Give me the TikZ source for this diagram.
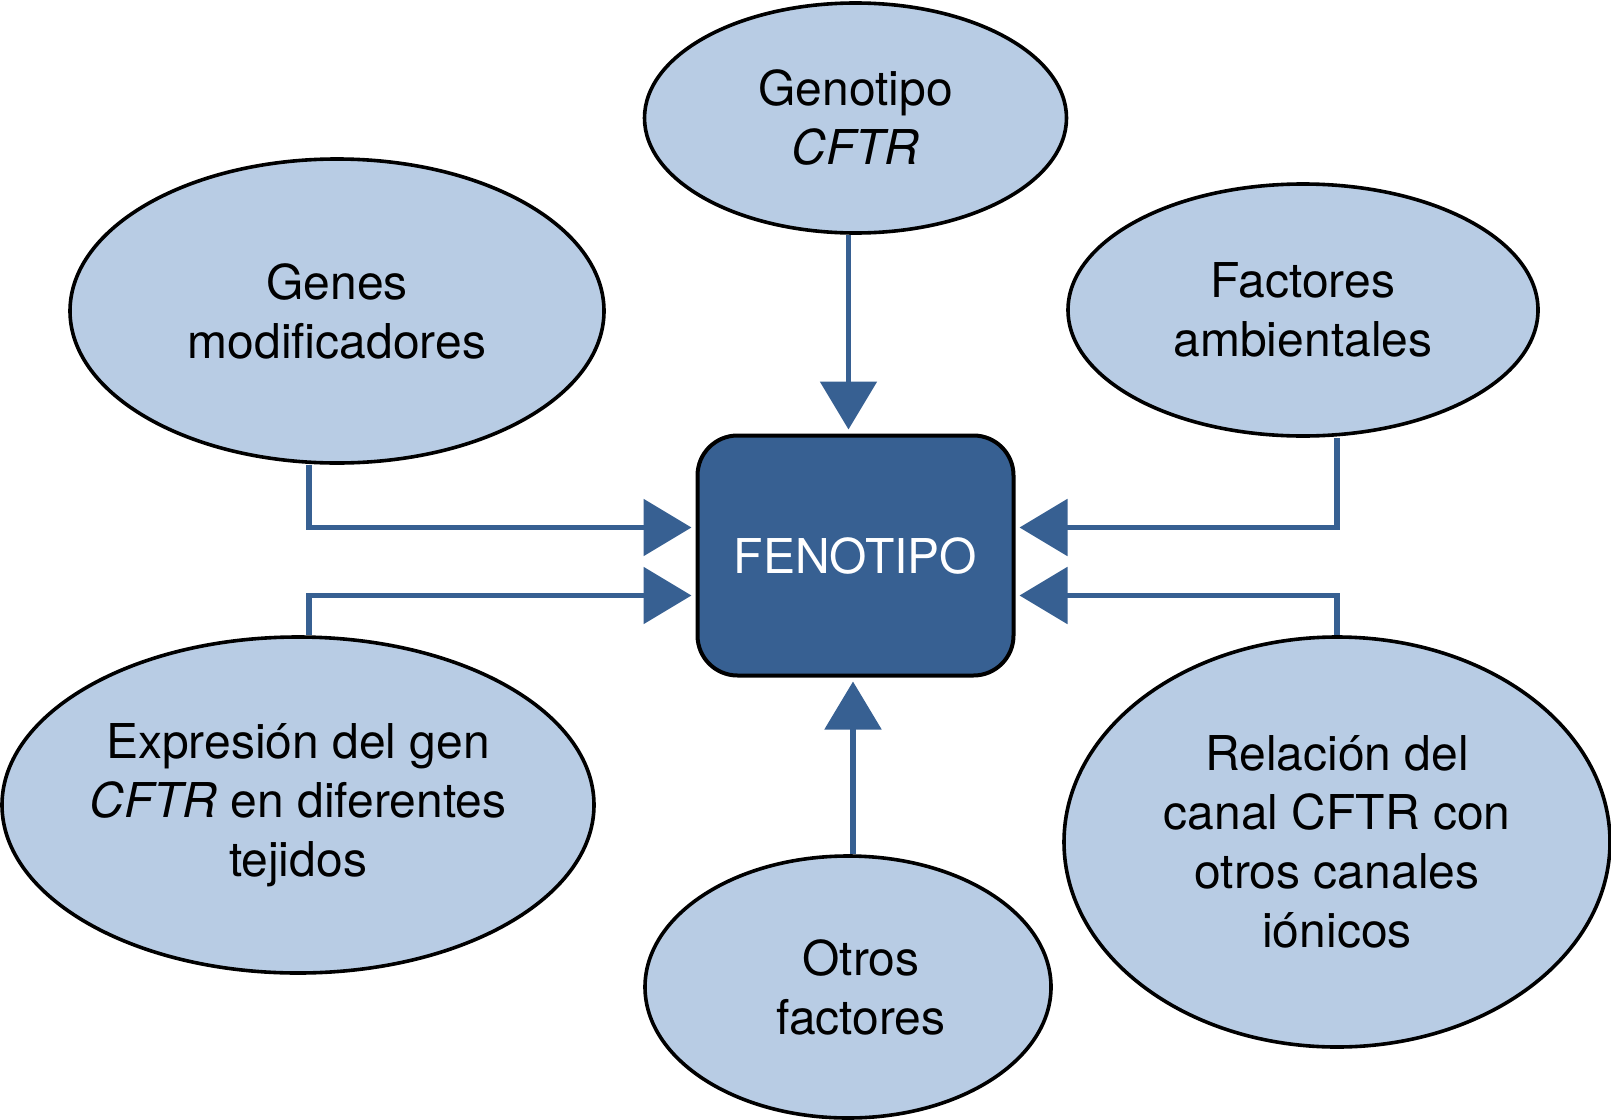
\documentclass[tikz,border=0pt]{standalone}
\usepackage{fontspec}
\setmainfont{TeX Gyre Heros}
\usetikzlibrary{arrows.meta,shapes.geometric,positioning}
\definecolor{lightblue}{RGB}{184,204,228}
\definecolor{darkblue}{RGB}{55,96,146}
\tikzstyle{elip}=[ellipse,draw=black,line width=1.8pt,fill=lightblue,inner sep=0pt,align=center]
\tikzstyle{link}=[draw=darkblue,line width=2.8pt,shorten >=2pt,-{Triangle[length=24pt,width=28pt]}]

\begin{document}
\begin{tikzpicture}[
    x=0.5pt, y=-0.5pt,
    font=\fontsize{24}{29.5}\selectfont
    ]
    \useasboundingbox (0,0) rectangle (1611,1119);
    \node[rectangle, rounded corners=20pt, draw=black, line width=2pt, fill=darkblue,
          minimum width=158pt, minimum height=120pt, text=white] (feno) at (855.5,555.5) {FENOTIPO};
    \node[elip, minimum width=211pt, minimum height=115pt] (geno) at (855.5,118) {Genotipo\\\textit{CFTR}};
    \node[elip, minimum width=267pt, minimum height=152pt] (genes) at (337,311) {Genes\\modificadores};
    \node[elip, minimum width=235pt, minimum height=126pt] (amb) at (1303,310) {Factores\\ambientales};
    \node[elip, minimum width=296pt, minimum height=168pt] (expr) at (298,805) {Expresión del gen\\\textit{CFTR} en diferentes\\tejidos};
    \node[elip, minimum width=273pt, minimum height=205pt] (rel) at (1337,842) {Relación del\\canal CFTR con\\otros canales\\iónicos};
    \node[elip, minimum width=203pt, minimum height=131pt,
          label={[xshift=6.5pt,align=center]center:Otros\\factores}] (otros) at (848,987) {};

    \draw[link] ([xshift=-3.5pt]geno.south) -- ([xshift=-3.5pt]geno.south |- feno.north);
    \draw[link] ([xshift=2.5pt]otros.north) -- ([xshift=2.5pt]otros.north |- feno.south);
    \draw[link] ([xshift=-14pt]genes.south) |- ([yshift=14pt]feno.west);
    \draw[link] ([xshift=5.5pt]expr.north) |- ([yshift=-20pt]feno.west);
    \draw[link] ([xshift=17pt]amb.south) |- ([yshift=14pt]feno.east);
    \draw[link] (rel.north) |- ([yshift=-20pt]feno.east);
\end{tikzpicture}
\end{document}
